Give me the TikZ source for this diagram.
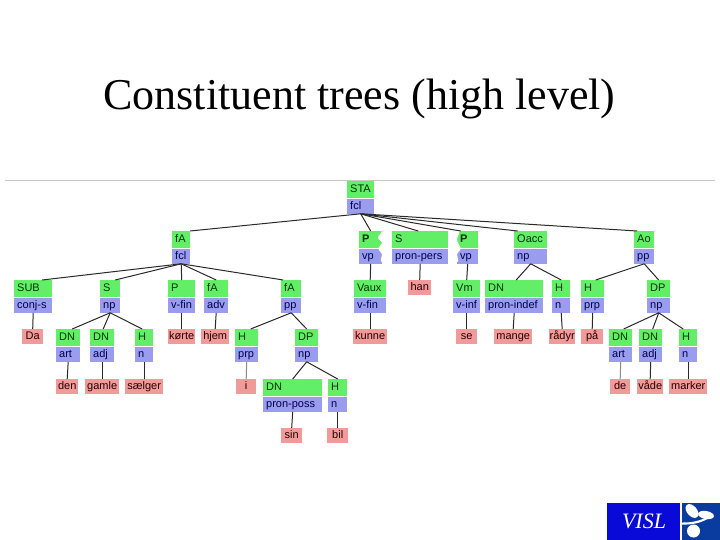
\documentclass[tikz,border=0pt]{standalone}
\usepackage{fontspec}
\setmainfont{Liberation Serif}
\setsansfont{Liberation Sans}
\definecolor{grn}{HTML}{62EE66}
\definecolor{blu}{HTML}{9A9CEE}
\definecolor{pnk}{HTML}{F09A9A}
\definecolor{lnk}{HTML}{2A2A2A}
\definecolor{lgo}{HTML}{0A0AD8}
\definecolor{lgb}{HTML}{0A3CA0}
\tikzset{
 fnbox/.style={fill=grn,draw=none,inner xsep=3pt,inner ysep=0pt,minimum height=17pt,text height=8pt,text depth=2pt,align=left,font=\sffamily\fontsize{11}{11}\selectfont,text=black!80!green,anchor=north west},
 catbox/.style={fill=blu,draw=none,inner xsep=3pt,inner ysep=0pt,minimum height=15pt,text height=8pt,text depth=2pt,align=left,font=\sffamily\fontsize{11}{11}\selectfont,text=black!70!blue,anchor=north},
 leafbox/.style={fill=pnk,draw=none,inner xsep=0pt,inner ysep=0pt,minimum height=15pt,text height=8pt,text depth=2pt,align=center,font=\sffamily\fontsize{11}{11}\selectfont,text=black!85!red,anchor=north west},
 con/.style={draw=lnk,line width=1pt},
 cong/.style={draw=black!45,line width=1pt},
}
\newcommand{\tbx}[7][]{%
 \pgfmathsetmacro{\wa}{#3-#2}\pgfmathsetmacro{\wb}{#3-#2-6}%
 \node[fnbox,minimum width=\wa pt,text width=\wb pt] (#4) at (#2,#5) {#1#6};
 \node[catbox,minimum width=\wa pt,text width=\wb pt] (#4c) at (#4.south) {#7};}
\newcommand{\lfx}[5]{%
 \pgfmathsetmacro{\wa}{#2-#1}%
 \node[leafbox,minimum width=\wa pt] (#3) at (#1,#4) {#5};}
\newcommand{\jn}[3]{\draw[con] (#1c.south) -- ([xshift=#3pt]#2.north);}
\newcommand{\jg}[3]{\draw[cong] (#1c.south) -- ([xshift=#3pt]#2.north);}
\begin{document}
\begin{tikzpicture}[x=1pt,y=-1pt]
\useasboundingbox[fill=white] (0,0) rectangle (720,540);
\node[font=\fontsize{44}{44}\selectfont,anchor=base,text=black] (title) at (359.5,110) {Constituent trees (high level)};
\coordinate (ra) at (5,180.5); \coordinate (rb) at (715,180.5);
\draw[black!22,line width=0.8pt] (ra) -- (rb);
% row 1
\tbx{347}{374}{sta}{181}{STA}{fcl}
% row 2
\tbx{172}{190}{fa}{231}{fA}{fcl}
\tbx[\bfseries]{359}{382}{pa}{231}{P}{vp}
\tbx{392}{448}{sb}{231}{S}{pron-pers}
\tbx[\bfseries]{457}{478}{pb}{231}{P}{vp}
\tbx{514}{547}{oa}{231}{Oacc}{np}
\tbx{634}{654}{ao}{231}{Ao}{pp}
% row 3
\tbx{14}{52}{sub}{280}{SUB}{conj-s}
\tbx{100}{120}{s}{280}{S}{np}
\tbx{168}{195}{p}{280}{P}{v-fin}
\tbx{204}{228}{fb}{280}{fA}{adv}
\tbx{281}{301}{fc}{280}{fA}{pp}
\tbx{354}{386}{va}{280}{Vaux}{v-fin}
\lfx{408}{431}{han}{280}{han}
\tbx{453}{480}{vm}{280}{Vm}{v-inf}
\tbx{485}{543}{dx}{280}{DN}{pron-indef}
\tbx{552}{570}{ha}{280}{H}{n}
\tbx{581}{604}{hb}{280}{H}{prp}
\tbx{647}{670}{dp}{280}{DP}{np}
% row 4
\lfx{22}{43}{da}{329}{Da}
\tbx{56}{80}{dna}{329}{DN}{art}
\tbx{90}{114}{dnb}{329}{DN}{adj}
\tbx{135}{153}{hc}{329}{H}{n}
\lfx{168}{195}{ko}{329}{kørte}
\lfx{201}{229}{hj}{329}{hjem}
\tbx{235}{258}{hd}{329}{H}{prp}
\tbx{295}{318}{dq}{329}{DP}{np}
\lfx{353}{387}{ku}{329}{kunne}
\lfx{456}{477}{se}{329}{se}
\lfx{494}{532}{ma}{329}{mange}
\lfx{549}{575}{ra}{329}{rådyr}
\lfx{581}{603}{pp}{329}{på}
\tbx{609}{632}{dnc}{329}{DN}{art}
\tbx{639}{662}{dnd}{329}{DN}{adj}
\tbx{679}{697}{he}{329}{H}{n}
% row 5
\lfx{56}{78}{den}{379}{den}
\lfx{85}{119}{ga}{379}{gamle}
\lfx{125}{163}{sa}{379}{sælger}
\lfx{236}{256}{ii}{379}{i}
\tbx{263}{322}{dne}{379}{DN}{pron-poss}
\tbx{328}{347}{hf}{379}{H}{n}
\lfx{610}{630}{de}{379}{de}
\lfx{637}{663}{vd}{379}{våde}
\lfx{669}{707}{mk}{379}{marker}
% row 6
\lfx{281}{302}{si}{428}{sin}
\lfx{327}{348}{bi}{428}{bil}
% wavy edges of the two P/vp boxes
\fill[white] (382.5,230.5) -- (382.5,263) .. controls (379,260) and (382,258) .. (382,255) .. controls (382,252) and (378,251) .. (378.5,248) .. controls (379,245) and (382,245) .. (382,243) .. controls (382,241) and (378,240) .. (378,237.5) .. controls (378,235) and (382,234) .. (382,230.5) -- cycle;
\fill[white] (456.5,230.5) -- (456.5,263) .. controls (460,260) and (457,258) .. (457,255) .. controls (457,252) and (461,251) .. (460.5,248) .. controls (460,245) and (457,243) .. (457,239) .. controls (457,236) and (460,234) .. (460,230.5) -- cycle;
% connectors
\jn{sta}{fa}{9}\jn{sta}{pa}{0}\jn{sta}{sb}{-2}\jn{sta}{pb}{-7}\jn{sta}{oa}{-13}\jn{sta}{ao}{-7}
\jn{fa}{sub}{9}\jn{fa}{s}{5}\jn{fa}{p}{0}\jn{fa}{fb}{0}\jn{fa}{fc}{-8}
\jn{pa}{va}{0}\jn{sb}{han}{0}\jn{pb}{vm}{0}
\jn{oa}{dx}{2}\jn{oa}{ha}{0}\jn{ao}{hb}{3}\jn{ao}{dp}{0}
\jn{sub}{da}{0}\jn{s}{dna}{4}\jn{s}{dnb}{1}\jn{s}{hc}{-2}
\jn{p}{ko}{0}\jn{fb}{hj}{0}\jn{fc}{hd}{4}\jn{fc}{dq}{0}
\jn{va}{ku}{0}\jn{vm}{se}{0}\jn{dx}{ma}{0}\jn{ha}{ra}{0}\jn{hb}{pp}{0}
\jn{dp}{dnc}{3}\jn{dp}{dnd}{2}\jn{dp}{he}{-5}
\jn{dna}{den}{0}\jn{dnb}{ga}{0}\jn{hc}{sa}{0}\jg{hd}{ii}{0}
\jn{dq}{dne}{0}\jn{dq}{hf}{0}
\jg{dnc}{de}{0}\jn{dnd}{vd}{0}\jn{he}{mk}{0}
\jn{dne}{si}{0}\jn{hf}{bi}{0}
% logo
\fill[lgo] (607,503) rectangle (680,540);
\fill[lgb] (682,503) rectangle (720,540);
\node[font=\itshape\fontsize{22}{22}\selectfont,text=white,anchor=center] (vi) at (644,521) {VISL};
\fill[white] (682,522.5) .. controls (695,523) and (703,519) .. (712,515) -- (712,516.5) .. controls (703,522) and (695,525) .. (682,524.5) -- cycle;
\fill[white,rotate around={-50:(692,511)}] (692,511) ellipse (8 and 5);
\fill[white,rotate around={-10:(706,515)}] (706,515) ellipse (8 and 4);
\fill[white] (693.5,531) circle (6.5);
\end{tikzpicture}
\end{document}
